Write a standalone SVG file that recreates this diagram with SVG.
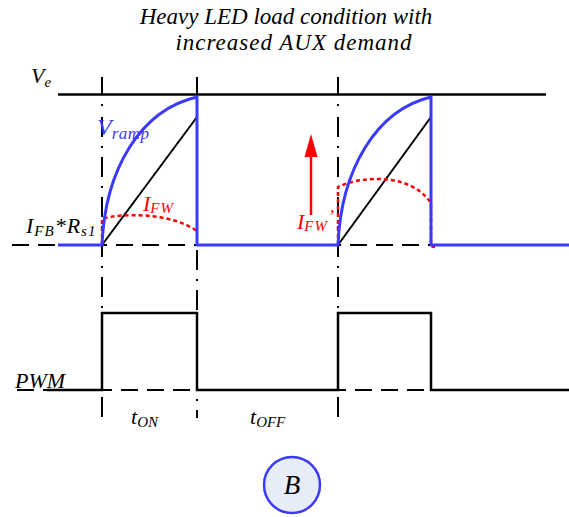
<svg xmlns="http://www.w3.org/2000/svg" width="569" height="517" viewBox="0 0 569 517" font-family="Liberation Serif, Times New Roman, DejaVu Serif, serif">
<style>
text{font-family:'Liberation Serif','Times New Roman','DejaVu Serif',serif;font-style:italic;}
.blk{fill:none;stroke:#000;stroke-width:2.5;}
.thin{fill:none;stroke:#000;stroke-width:2;}
.dd{fill:none;stroke:#000;stroke-width:2;stroke-dasharray:20,9,2,9;}
.dh{fill:none;stroke:#000;stroke-width:2;stroke-dasharray:17,9;}
.blue{fill:none;stroke:#3a3aff;stroke-width:3;}
.red{fill:none;stroke:#ff0000;stroke-width:2.5;stroke-dasharray:4,3;}
.lbl{font-size:22px;}
.sub{font-size:15px;}
</style>
<rect width="569" height="517" fill="#fff"/>
<g id="title">
<text x="286" y="24" font-size="23" text-anchor="middle">Heavy LED load condition with</text>
<text x="294" y="50" font-size="23" text-anchor="middle" letter-spacing="1">increased AUX demand</text>
</g>
<g id="connectors">
<line class="blk" x1="58" y1="94.5" x2="546" y2="94.5"/>
<line class="thin" x1="102" y1="77" x2="102" y2="94"/>
<line class="thin" x1="197" y1="77" x2="197" y2="94"/>
<line class="thin" x1="338" y1="77" x2="338" y2="94"/>
<line class="dd" x1="102" y1="117" x2="102" y2="418"/>
<line class="thin" x1="102" y1="104" x2="102" y2="106"/>
<line class="dd" x1="338" y1="117" x2="338" y2="418"/>
<line class="thin" x1="338" y1="104" x2="338" y2="106"/>
<line class="thin" x1="197" y1="94" x2="197" y2="245"/>
<line class="dd" x1="197" y1="250" x2="197" y2="418"/>
<line class="dh" x1="12" y1="245" x2="569" y2="245"/>
<line class="dh" x1="17" y1="390" x2="569" y2="390"/>
<path class="thin" d="M102,245 L197,117"/>
<path class="thin" d="M338,245 L431,117 L431,245"/>
<path class="red" d="M102,245 L102,219 C120,213 170,212 197,231"/>
<path class="red" d="M338,245 L338,187 C360,176 410,172 431,203 L431,245 Q431,247 435,247"/>
<path class="blue" d="M58,245 L102,245 C105,170 140,110 197,97 L197,245 L338,245 C341,170 376,110 431,97 L431,245 L569,245"/>
<line x1="311" y1="215" x2="311" y2="152" stroke="#ff0000" stroke-width="2.5"/>
<polygon points="311,134 304.5,157 317.5,157" fill="#ff0000"/>
<path class="blk" d="M47,390 L102,390 L102,313 L197,313 L197,390 L338,390 L338,313 L431,313 L431,390 L569,390"/>
</g>
<g id="labels">
<text class="lbl" x="31" y="83">V<tspan class="sub" dy="4">e</tspan></text>
<text class="lbl" x="26" y="233" letter-spacing="1">I<tspan class="sub" dy="3" font-size="16">FB</tspan><tspan dy="-3">*R</tspan><tspan class="sub" dy="3" font-size="16">s1</tspan></text>
<text x="97" y="135" fill="#3a3aff" font-size="24">V<tspan dy="4" font-size="17" letter-spacing="0.5">ramp</tspan></text>
<text class="lbl" x="143" y="211" fill="#ff0000">I<tspan class="sub" dy="2" font-size="17" letter-spacing="1">FW</tspan></text>
<text class="lbl" x="297" y="229" fill="#ff0000">I<tspan class="sub" dy="2" font-size="17" letter-spacing="1">FW</tspan><tspan dy="-8" font-size="18">’</tspan></text>
<text class="lbl" x="15" y="388">PWM</text>
<text class="lbl" x="131" y="424">t<tspan class="sub" dy="3" font-size="16">ON</tspan></text>
<text class="lbl" x="250" y="424">t<tspan class="sub" dy="3" font-size="16">OFF</tspan></text>
</g>
<g id="nodeB">
<circle cx="292" cy="485" r="28" fill="#e6ecf8" stroke="#3a3aff" stroke-width="2.5"/>
<text x="292" y="494" font-size="27" text-anchor="middle">B</text>
</g>
</svg>
